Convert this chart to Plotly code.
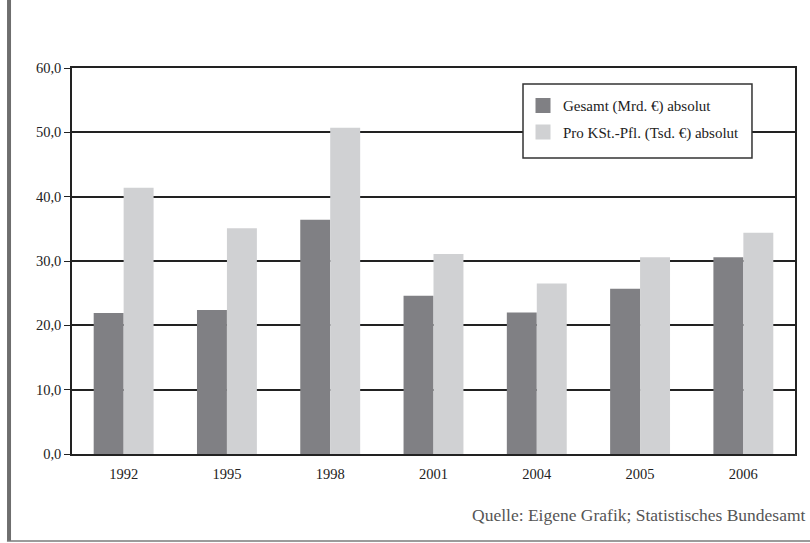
import plotly.graph_objects as go

years = ["1992", "1995", "1998", "2001", "2004", "2005", "2006"]
gesamt = [21.9, 22.4, 36.4, 24.6, 22.0, 25.7, 30.6]
pro_kst = [41.4, 35.1, 50.7, 31.1, 26.5, 30.6, 34.4]
y_ticks = [0, 10, 20, 30, 40, 50, 60]
series_names = ["Gesamt (Mrd. €) absolut", "Pro KSt.-Pfl. (Tsd. €) absolut"]
series_colors = ["#808084", "#d0d1d3"]
source_text = "Quelle: Eigene Grafik; Statistisches Bundesamt"

serif = "Liberation Serif, Times New Roman, serif"

fig = go.Figure()
for vals, name, color in zip([gesamt, pro_kst], series_names, series_colors):
    fig.add_trace(go.Bar(
        x=years, y=vals, name=name, showlegend=False,
        marker=dict(color=color, line=dict(width=0)),
    ))

# legend entries with larger square swatches
for i, (name, color) in enumerate(zip(series_names, series_colors)):
    fig.add_trace(go.Scatter(
        x=[None], y=[None], mode="markers", name=name,
        marker=dict(symbol="square", size=15, color=color),
        legendgroup=f"g{i}", hoverinfo="skip",
    ))

fig.update_layout(
    width=810, height=543,
    margin=dict(l=72, r=15, t=68, b=89),
    paper_bgcolor="white", plot_bgcolor="white",
    barmode="group", bargap=0.42, bargroupgap=0,
    separators=",.",
    font=dict(family=serif, size=14.5, color="#222"),
    showlegend=True,
    legend=dict(
        x=0.6238, y=0.945, xanchor="left", yanchor="top",
        bgcolor="rgba(0,0,0,0)", borderwidth=0,
        font=dict(family=serif, size=15, color="#222"),
        traceorder="grouped", tracegroupgap=4,
        itemwidth=30,
    ),
    xaxis=dict(
        type="category", showline=True, linecolor="#222", linewidth=1.5,
        mirror=True, ticks="", tickfont=dict(size=14.5, color="#222"),
        ticklabelstandoff=6, showgrid=False,
    ),
    yaxis=dict(
        range=[0, 60], tickvals=y_ticks, tickformat=".1f",
        showgrid=True, gridcolor="#222", gridwidth=1.5,
        showline=True, linecolor="#222", linewidth=1.5, mirror=True,
        ticks="outside", ticklen=6, tickcolor="#222", tickwidth=1,
        tickfont=dict(size=14.5, color="#222"), zeroline=False,
    ),
    shapes=[
        # legend frame
        dict(type="rect", xref="paper", yref="paper", x0=0.6238, x1=0.9405,
             y0=0.7668, y1=0.9585, fillcolor="white",
             line=dict(color="#333", width=1.5), layer="above"),
        # page frame: thick rule on the left, thin rule at the bottom
        dict(type="line", xref="paper", yref="paper", x0=-0.0871, x1=-0.0871,
             y0=-0.2254, y1=1.18, line=dict(color="#6e6e6e", width=4)),
        dict(type="line", xref="paper", yref="paper", x0=-0.09, x1=1.03,
             y0=-0.2254, y1=-0.2254, line=dict(color="#7a7a7a", width=1.5)),
    ],
    annotations=[
        dict(text=source_text, xref="paper", yref="paper", x=1.018, y=-0.158,
             xanchor="right", yanchor="middle", showarrow=False,
             font=dict(family=serif, size=17.5, color="#555")),
    ],
)

fig.write_html("out.html")
